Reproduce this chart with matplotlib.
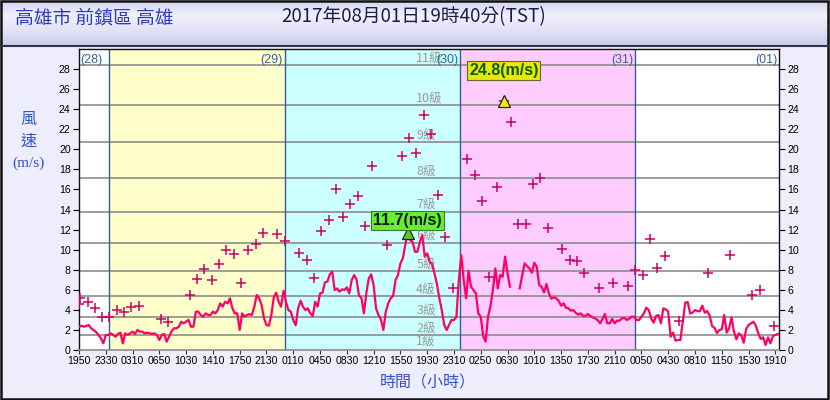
import numpy as np
import matplotlib
matplotlib.use('Agg')
import matplotlib.pyplot as plt
from matplotlib.patches import Rectangle
from matplotlib.colors import LinearSegmentedColormap

# ---------------- data ----------------
station = '高雄市 前鎮區 高雄'
obs_time = '2017年08月01日19時40分(TST)'
wind_step_min = 20          # minutes between listed wind samples, from 07-28 19:50
wind = [
    2.32, 2.42, 2.32, 2.4, 2.49, 2.16, 1.99, 1.8, 1.5, 1.16,
    0.66, 1.5, 1.5, 1.66, 1.5, 1.33, 1.6, 1.73, 0.66, 1.66,
    1.5, 1.66, 1.83, 1.6, 2.0, 1.83, 1.83, 1.66, 1.73, 1.66,
    1.6, 1.66, 1.5, 1.0, 1.5, 1.6, 0.83, 1.33, 1.83, 2.16,
    2.16, 2.32, 2.82, 2.66, 2.82, 3.0, 2.32, 2.32, 3.82, 3.82,
    3.49, 3.32, 3.65, 3.49, 3.49, 3.82, 3.65, 3.98, 4.65, 4.32,
    4.81, 4.65, 5.15, 4.15, 3.65, 3.65, 2.0, 3.65, 3.32, 3.49,
    3.58, 3.49, 4.32, 5.48, 5.15, 4.48, 3.15, 2.49, 2.42, 3.49,
    5.25, 5.71, 4.81, 4.32, 5.91, 4.81, 3.98, 3.82, 2.99, 2.46,
    4.15, 4.91, 4.32, 3.98, 4.15, 3.65, 3.39, 4.81, 4.32, 5.64,
    5.71, 6.74, 6.81, 7.54, 7.8, 5.98, 6.14, 5.81, 6.04, 5.98,
    6.24, 5.64, 6.97, 7.47, 7.04, 5.41, 5.18, 3.65, 5.64, 7.14,
    7.54, 6.47, 4.15, 3.49, 3.05, 1.99, 3.82, 4.65, 5.15, 5.38,
    6.97, 7.47, 8.63, 9.13, 10.46, 11.7, 10.96, 10.79, 9.79, 9.79,
    10.79, 11.45, 9.3, 9.63, 8.8, 8.57, 7.64, 6.57, 5.15, 3.98,
    2.49, 1.99, 2.49, 2.99, 2.99, 3.32, 6.97, 9.46, 6.97, 5.15,
    7.9, 6.31, 5.98, 5.64, 3.65, 3.32, 1.39, 0.83, 3.32, 4.38,
    5.98, 8.13, 6.14, 7.47, 7.3, 9.3, 7.64, 6.31, np.nan, np.nan,
    np.nan, 6.14, 7.37, 8.63, 8.37, 8.13, 7.7, 8.7, 8.3, 6.47,
    6.31, 5.74, 6.57, 5.64, 5.11, 5.25, 5.15, 4.91, 4.42, 4.65,
    4.22, 4.15, 3.92, 3.98, 3.72, 3.52, 3.65, 3.42, 3.39, 3.59,
    3.39, 3.25, 3.15, 2.99, 2.66, 3.09, 3.59, 2.66, 2.66, 3.09,
    2.66, 2.92, 2.92, 3.15, 3.19, 2.99, 3.12, 3.32, 3.32, 2.99,
    2.99, 3.32, 3.65, 4.22, 3.98, 3.15, 2.72, 3.39, 3.49, 2.66,
    4.15, 4.05, 3.82, 1.33, 1.73, 0.93, 1.0, 1.0, 2.82, 4.71,
    4.78, 3.65, 3.72, 3.98, 3.88, 3.85, 4.42, 3.72, 3.88, 3.45,
    2.39, 2.22, 1.69, 1.99, 2.06, 3.49, 1.73, 2.16, 3.25, 1.83,
    1.06, 1.66, 1.46, 0.73, 2.09, 2.49, 2.66, 2.82, 2.42, 1.66,
    1.1, 1.26, 0.5, 1.26, 0.66, 1.39, 1.5, 1.6,
]
gust_min = [0, 10, 70, 130, 190, 250, 310, 370, 430, 490, 670, 730, 910, 970,
            1030, 1090, 1150, 1210, 1270, 1330, 1390, 1450, 1510, 1630, 1690,
            1810, 1870, 1930, 1990, 2050, 2110, 2170, 2230, 2290, 2350, 2410,
            2530, 2650, 2710, 2770, 2830, 2890, 2950, 3010, 3070, 3190, 3250,
            3310, 3370, 3430, 3490, 3550, 3610, 3670, 3730, 3790, 3850, 3970,
            4030, 4090, 4150, 4270, 4390, 4510, 4570, 4630, 4690, 4750, 4810,
            4930, 5170, 5350, 5530, 5590, 5710]
gust = [4.6, 5.2, 4.75, 4.15, 3.3, 3.25, 4.0, 3.8, 4.25, 4.4, 3.05, 2.8, 5.5, 7.1,
        8.1, 7.0, 8.6, 9.95, 9.6, 6.7, 10.0, 10.6, 11.7, 11.6, 10.9,
        9.7, 9.0, 7.2, 11.9, 13.0, 16.0, 13.3, 14.6, 15.3, 12.35, 18.35,
        10.45, 19.35, 21.15, 19.6, 23.4, 21.5, 15.4, 11.3, 6.15, 19.0, 17.4,
        14.9, 7.3, 16.2, 24.8, 22.7, 12.55, 12.6, 16.5, 17.1, 12.2, 10.1,
        8.95, 8.9, 7.7, 6.2, 6.7, 6.4, 8.0, 7.5, 11.1, 8.2, 9.4,
        2.9, 7.7, 9.5, 5.5, 6.0, 2.4]
span_min = 5750
tick_step_min = 220
tick_labels = ['1950', '2330', '0310', '0650', '1030', '1410', '1750', '2130',
               '0110', '0450', '0830', '1210', '1550', '1930', '2310', '0250',
               '0630', '1010', '1350', '1730', '2110', '0050', '0430', '0810',
               '1150', '1530', '1910']
midnights = [250, 1690, 3130, 4570]
day_labels = ['(28)', '(29)', '(30)', '(31)', '(01)']
day_colors = ['#FFFFFF', '#FFFFCC', '#CCFFFF', '#FFCCFF', '#FFFFFF']
beaufort_lower = [0.3, 1.6, 3.4, 5.5, 8.0, 10.8, 13.9, 17.2, 20.8, 24.5, 28.5]
beaufort_upper = [1.5, 3.3, 5.4, 7.9, 10.7, 13.8, 17.1, 20.7, 24.4, 28.4]

# ---------------- figure ----------------
W, H = 830, 400
fig = plt.figure(figsize=(W / 100, H / 100), dpi=100)
fig.patch.set_facecolor('#EDEDFB')

# title bar
bar = fig.add_axes([0, 1 - 46 / H, 1, 46 / H])
cmap = LinearSegmentedColormap.from_list('bar', ['#D4D4F0', '#F0F0FE', '#E2E2F6', '#CACAEC'])
bar.imshow(np.linspace(0, 1, 50).reshape(-1, 1), aspect='auto', cmap=cmap,
           extent=[0, 1, 0, 1])
bar.set_axis_off()
fig.add_artist(plt.Line2D([0, 1], [1 - 46 / H, 1 - 46 / H], color='#333344', lw=1.5,
                          transform=fig.transFigure))
fig.text(15 / W, 1 - 18 / H, station, fontsize=13.5, color='#2A3CC0',
         family=['Noto Sans CJK TC', 'DejaVu Sans'], va='center', ha='left')
fig.text(414 / W, 1 - 17 / H, obs_time, fontsize=13.5, color='#1C1C44',
         family=['Noto Sans CJK TC', 'DejaVu Sans'], va='center', ha='center')

ax = fig.add_axes([79 / W, 1 - 350 / H, 700 / W, 301 / H])
ax.set_xlim(0, span_min)
ax.set_ylim(0, 30)

bounds = [0] + midnights + [span_min]
for i in range(len(day_labels)):
    ax.axvspan(bounds[i], bounds[i + 1], color=day_colors[i], zorder=0, lw=0)
for m in midnights:
    ax.axvline(m, color='#2F5F99', lw=1, zorder=2)

for b in beaufort_upper:
    ax.axhline(b, color='#8C8C8C', lw=1.2, zorder=1)
for k, lo in enumerate(beaufort_lower):
    ax.text(2770, lo + 0.6, f'{k + 1}級', fontsize=9, color='#9A9A9A',
            family=['Noto Sans CJK TC', 'DejaVu Sans'], ha='left', va='center', zorder=1.5)

# day labels
for i, lab in enumerate(day_labels):
    if i == 0:
        ax.text(12, 28.9, lab, ha='left', va='center', fontsize=9, color='#336699',
                family='Liberation Sans', zorder=3)
    else:
        ax.text(bounds[i + 1] - 15, 28.9, lab, ha='right', va='center', fontsize=9,
                color='#336699', family='Liberation Sans', zorder=3)

t_wind = np.arange(len(wind)) * wind_step_min
wind_arr = np.array(wind, dtype=float)
ax.plot(t_wind, wind_arr, color='#FF0066', lw=1.6, zorder=4, solid_joinstyle='round')
ax.plot(gust_min, gust, ls='none', marker='+', ms=7, mew=1.1, color='#CC0066', zorder=5)

# maxima
iw = int(np.nanargmax(wind_arr))
ig = int(np.argmax(gust))
ax.plot(gust_min[ig], gust[ig], marker='^', ms=9, mfc='#EEEE11', mec='#222222', mew=0.9,
        ls='none', zorder=6)
ax.annotate(f'{gust[ig]:.1f}(m/s)', xy=(gust_min[ig], gust[ig]), xytext=(0, 31),
            textcoords='offset pixels', ha='center', va='center', fontsize=11.5,
            fontweight='bold', color='#0A5A0A', family='Liberation Sans', zorder=7,
            bbox=dict(boxstyle='square,pad=0.12', fc='#E8E800', ec='#666633', lw=0.8))
ax.plot(t_wind[iw], wind_arr[iw], marker='^', ms=9, mfc='#55CC22', mec='#222222', mew=0.9,
        ls='none', zorder=6)
ax.annotate(f'{wind_arr[iw]:.1f}(m/s)', xy=(t_wind[iw], wind_arr[iw]), xytext=(0, 12),
            textcoords='offset pixels', ha='center', va='center', fontsize=11.5,
            fontweight='bold', color='#0A1A0A', family='Liberation Sans', zorder=7,
            bbox=dict(boxstyle='square,pad=0.12', fc='#66EE33', ec='#447733', lw=0.8))

# axes styling
ticks = np.arange(len(tick_labels)) * tick_step_min
ax.set_xticks(ticks)
ax.set_xticklabels(tick_labels, family='Liberation Sans', fontsize=7.6)
yt = np.arange(0, 29, 2)
ax.set_yticks(yt)
ax.set_yticklabels([str(v) for v in yt], family='Liberation Sans', fontsize=7.6)
ax.tick_params(axis='x', direction='out', length=3, width=0.8, pad=1.5, color='#333333')
ax.tick_params(axis='y', direction='out', length=4.5, width=0.8, pad=1.5,
               left=True, right=True, labelleft=True, labelright=True)
for s in ['top', 'left', 'right']:
    ax.spines[s].set_color('#111111')
    ax.spines[s].set_linewidth(1)
ax.spines['bottom'].set_color('#8C8C8C')
ax.spines['bottom'].set_linewidth(1.2)

# axis titles
yfam = ['Noto Sans CJK TC', 'DejaVu Sans']
fig.text(28 / W, 1 - 119 / H, '風', fontsize=11.5, color='#3355CC', family=yfam,
         ha='center', va='center')
fig.text(28 / W, 1 - 141 / H, '速', fontsize=11.5, color='#3355CC', family=yfam,
         ha='center', va='center')
fig.text(28 / W, 1 - 163 / H, '(m/s)', fontsize=11, color='#3355CC', family='Liberation Serif',
         ha='center', va='center')
fig.text(428 / W, 1 - 383 / H, '時間（小時）', fontsize=11.5, color='#3355CC', family=yfam,
         ha='center', va='center')

fig.add_artist(Rectangle((0.001, 0.002), 0.997, 0.996, transform=fig.transFigure,
                         fill=False, ec='#111111', lw=1.8))

fig.savefig('out.png', dpi=100, facecolor=fig.get_facecolor())
